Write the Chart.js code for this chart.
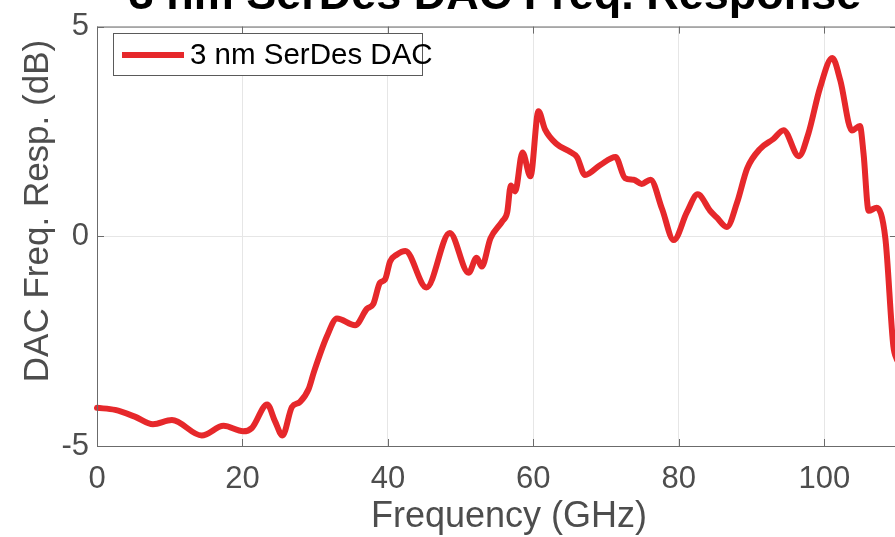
<!DOCTYPE html>
<html>
<head>
<meta charset="utf-8">
<script src="https://cdn.jsdelivr.net/npm/chart.js@4.4.1/dist/chart.umd.min.js"></script>
<style>
html,body{margin:0;padding:0;background:#fff;overflow:hidden;width:895px;height:537px;}
#wrap{position:absolute;left:0;top:0;width:905px;height:537px;}
</style>
</head>
<body>
<div id="wrap"><canvas id="c" width="905" height="537"></canvas></div>
<script>
// ---- data ----
const chartTitle = "3 nm SerDes DAC Freq. Response";
const xAxisLabel = "Frequency (GHz)";
const yAxisLabel = "DAC Freq. Resp. (dB)";
const seriesName = "3 nm SerDes DAC";
const freqGHz = [0,2.5,5.2,7.7,10.3,14.4,17.4,20.1,21.3,23.4,24.5,25.5,26.8,27.9,29.1,29.8,31.6,33.0,35.5,37.1,38.0,38.9,39.6,40.3,41.2,42.4,45.3,48.5,51.1,52.2,52.9,54.1,55.7,56.4,56.9,57.5,58.5,59.6,60.7,61.6,63.2,65.1,66.0,67.1,69.2,71.3,72.6,73.8,74.9,76.1,77.7,79.3,81.1,82.6,84.3,85.2,86.6,88.0,89.4,91.2,93.0,94.4,96.5,97.8,99.4,101.1,102.2,103.8,104.9,105.4,106.1,107.2,108.4,109.5,110];
const respDB = [-4.09,-4.14,-4.30,-4.48,-4.38,-4.75,-4.52,-4.65,-4.57,-4.01,-4.42,-4.75,-4.07,-3.95,-3.64,-3.25,-2.39,-1.96,-2.12,-1.73,-1.61,-1.11,-1.03,-0.60,-0.44,-0.35,-1.22,0.08,-0.87,-0.51,-0.72,-0.05,0.35,0.57,1.21,1.07,2.00,1.43,2.98,2.55,2.20,2.01,1.89,1.46,1.70,1.89,1.39,1.35,1.25,1.35,0.65,-0.09,0.57,1.00,0.61,0.45,0.22,0.80,1.62,2.09,2.32,2.53,1.91,2.44,3.53,4.25,3.72,2.52,2.63,1.97,0.61,0.68,-0.05,-2.62,-2.95];
const xTicks = [0,20,40,60,80,100];
const yTicks = [-5,0,5];
const xMin = 0, xMax = 110, yMin = -5, yMax = 5;
const lineColor = '#e6282b';

const points = freqGHz.map((f,i)=>({x:f,y:respDB[i]}));
const FONT = "'Liberation Sans', Arial, Helvetica, sans-serif";

const decor = {
  id:'decor',
  afterDraw(chart){
    const ctx = chart.ctx, a = chart.chartArea;
    const xs = chart.scales.x, ys = chart.scales.y;
    ctx.save();
    // axes box
    ctx.strokeStyle = '#6b6b6b'; ctx.lineWidth = 1;
    ctx.strokeRect(a.left+0.5, a.top+0.5, a.right-a.left, a.bottom-a.top);
    // inner ticks
    const tl = 7;
    ctx.beginPath();
    xTicks.forEach(v=>{
      const p = Math.round(xs.getPixelForValue(v))+0.5;
      ctx.moveTo(p,a.bottom); ctx.lineTo(p,a.bottom-tl);
      ctx.moveTo(p,a.top); ctx.lineTo(p,a.top+tl);
    });
    yTicks.forEach(v=>{
      const p = Math.round(ys.getPixelForValue(v))+0.5;
      ctx.moveTo(a.left,p); ctx.lineTo(a.left+tl,p);
      ctx.moveTo(a.right,p); ctx.lineTo(a.right-tl,p);
    });
    ctx.stroke();
    // title
    ctx.fillStyle = '#000';
    ctx.font = "bold 45px " + FONT;
    ctx.textAlign = 'center'; ctx.textBaseline = 'alphabetic';
    ctx.fillText(chartTitle, 495, 9);
    // axis titles
    ctx.fillStyle = '#4d4d4d';
    ctx.font = "36px " + FONT;
    ctx.fillText(xAxisLabel, 509, 527);
    ctx.font = "35px " + FONT;
    ctx.save();
    ctx.translate(48, 211);
    ctx.rotate(-Math.PI/2);
    ctx.fillText(yAxisLabel, 0, 0);
    ctx.restore();
    // legend
    const lx = 113, ly = 33, lw = 309, lh = 42;
    ctx.fillStyle = '#fff';
    ctx.fillRect(lx, ly, lw, lh);
    ctx.strokeStyle = '#5a5a5a'; ctx.lineWidth = 1;
    ctx.strokeRect(lx+0.5, ly+0.5, lw, lh);
    ctx.strokeStyle = chart.data.datasets[0].borderColor; ctx.lineWidth = 6;
    ctx.beginPath(); ctx.moveTo(122, 55); ctx.lineTo(184, 55); ctx.stroke();
    ctx.fillStyle = '#000';
    ctx.font = "29.5px " + FONT;
    ctx.textAlign = 'left'; ctx.textBaseline = 'middle';
    ctx.fillText(chart.data.datasets[0].label, 190, 56);
    ctx.restore();
  }
};

new Chart(document.getElementById('c'), {
  type:'line',
  data:{datasets:[{
    label: seriesName,
    data: points,
    borderColor: lineColor,
    backgroundColor: lineColor,
    borderWidth: 6,
    pointRadius: 0,
    cubicInterpolationMode: 'monotone',
    borderCapStyle:'round',
    borderJoinStyle:'round',
    clip: 3
  }]},
  options:{
    responsive:false,
    animation:false,
    devicePixelRatio:1,
    layout:{padding:{left:0,top:18,right:8,bottom:0}},
    plugins:{legend:{display:false},title:{display:false},tooltip:{enabled:false}},
    scales:{
      x:{
        type:'linear', min:xMin, max:xMax,
        afterFit(s){ s.height = 537-446; },
        afterBuildTicks(s){ s.ticks = xTicks.map(v=>({value:v})); },
        grid:{color:'#e6e6e6', drawTicks:false, lineWidth:1},
        border:{display:false},
        ticks:{color:'#4d4d4d', font:{family:FONT,size:31}, padding:15, maxRotation:0}
      },
      y:{
        type:'linear', min:yMin, max:yMax,
        afterFit(s){ s.width = 97; },
        afterBuildTicks(s){ s.ticks = yTicks.map(v=>({value:v})); },
        grid:{color:'#e6e6e6', drawTicks:false, lineWidth:1},
        border:{display:false},
        ticks:{color:'#4d4d4d', font:{family:FONT,size:31}, padding:8}
      }
    }
  },
  plugins:[decor]
});
</script>
</body>
</html>
